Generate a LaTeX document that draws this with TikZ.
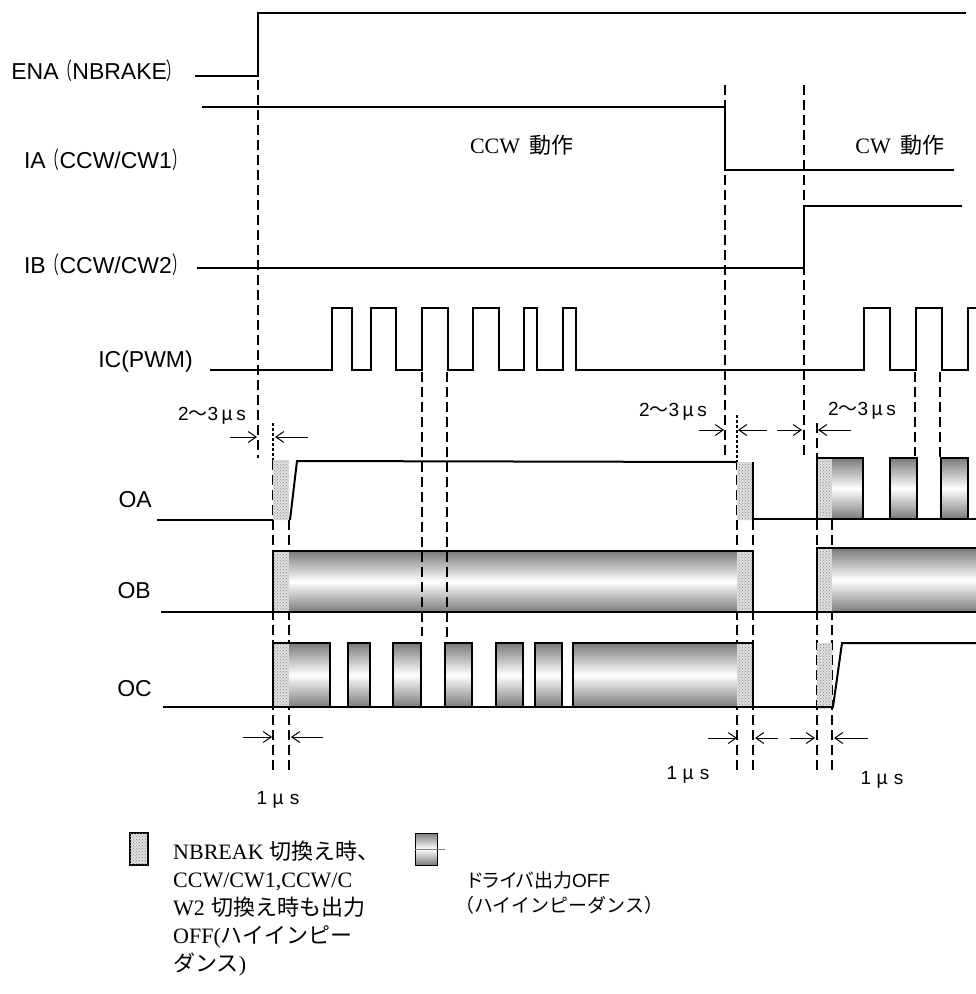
\documentclass[tikz,border=0pt]{standalone}
\usepackage{fontspec}
\usepackage{graphicx}
\setmainfont{Liberation Sans}
\newfontfamily\jp{Noto Sans CJK JP}
\newfontfamily\jpp[RawFeature=+palt]{Noto Sans CJK JP}
\newfontfamily\latserif{Liberation Serif}
\newcommand\lpar{\scalebox{0.6}[1]{\jp （}}
\newcommand\rpar{\scalebox{0.6}[1]{\jp ）}}
\usetikzlibrary{arrows.meta,patterns}
\pgfdeclareverticalshading{tubegrad}{100bp}{color(0bp)=(black); color(14bp)=(black!75); color(50bp)=(white); color(86bp)=(black!75); color(100bp)=(black)}

\begin{document}
\begin{tikzpicture}[x=1pt, y=-1pt,
    sig/.style={line width=2pt},
    thinsig/.style={line width=1.3pt},
    guide/.style={line width=1.2pt, dash pattern=on 10pt off 5pt},
    dotline/.style={line width=2pt, dash pattern=on 3pt off 2pt},
    meas/.style={line width=1pt, -{Straight Barb[length=8pt,width=11pt]}},
    tube/.style={shade, shading=tubegrad, draw=black, line width=1.5pt},
    stip/.style={fill=gray!25, postaction={pattern=crosshatch dots, pattern color=gray!90}},
    boxline/.style={draw=black, line width=1.5pt},
    lbl/.style={font=\fontsize{23}{27}\selectfont, inner sep=0pt},
    small/.style={font=\fontsize{19}{23}\selectfont, inner sep=0pt},
  ]
  \useasboundingbox (0,0) rectangle (976,994);

  % input signals
  \draw[sig] (195,76) -- (258,76) -- (258,13) -- (966,13);
  \draw[sig] (202,107) -- (725,107) -- (725,170) -- (954,170);
  \draw[thinsig] (197,268) -- (804,268) -- (804,206) -- (962,206);
  \draw[sig] (210,370) foreach \a/\b in {332/352, 371/396, 422/448, 473/499, 524/537, 563/576, 864/890, 916/942} { -- (\a,370) -- (\a,308) -- (\b,308) -- (\b,370) } -- (968,370) -- (968,308) -- (980,308);

  \node[lbl, anchor=east] (ena) at (181,71) {ENA\lpar NBRAKE\rpar};
  \node[lbl, anchor=east] (ia) at (186,160) {IA\lpar CCW/CW1\rpar};
  \node[lbl, anchor=east] (ib) at (186,265) {IB\lpar CCW/CW2\rpar};
  \node[lbl, anchor=east] (ic) at (193,362) {IC(PWM)};
  \node[font=\fontsize{22}{26}\selectfont, inner sep=0pt] (ccw) at (522,145) {{\latserif CCW}\, {\jp 動作}};
  \node[font=\fontsize{22}{26}\selectfont, inner sep=0pt] (cw) at (900,145) {{\latserif CW}\, {\jp 動作}};

  % timing guides
  \draw[guide] (258,80) -- (258,458);
  \draw[guide] (725,85) -- (725,458);
  \draw[guide] (804,85) -- (804,458);
  \draw[guide] (915,372) -- (915,456);
  \draw[guide] (940,372) -- (940,462);
  \draw[dotline] (273,423) -- (273,460);
  \draw[dotline] (737,415) -- (737,460);
  \draw[guide] (817,423) -- (817,460);
  \foreach \gx/\gy in {273/460, 289/520, 737/460, 753/520, 817/460, 832/520}
    \draw[guide] (\gx,\gy) -- (\gx,772);

  % OA
  \draw[sig] (157,520) -- (273,520);
  \path[stip] (273,460) rectangle (289,520);
  \draw[sig] (290,520) -- (297,461) -- (737,462);
  \draw[sig] (753,519) -- (980,519);
  \path[stip] (737,462) rectangle (753,520);
  \draw[sig] (753,462) -- (753,520);
  \foreach \a/\b in {817/863, 890/917, 941/968}
    \path[tube] (\a,458) rectangle (\b,519);
  \path[stip] (817,458) rectangle (832,519);
  \draw[boxline] (817,458) rectangle (863,519);

  % OB
  \draw[sig] (161,612) -- (980,612);
  \path[tube] (273,551) rectangle (753,612);
  \path[stip] (273,551) rectangle (289,612);
  \path[stip] (737,551) rectangle (753,612);
  \draw[boxline] (273,551) rectangle (753,612);
  \path[tube] (817,548) rectangle (985,612);
  \path[stip] (817,548) rectangle (832,612);
  \draw[boxline] (817,548) rectangle (985,612);

  % OC
  \draw[sig] (163,707) -- (817,707);
  \foreach \a/\b in {273/330, 348/370, 393/421, 445/472, 496/523, 535/562, 573/753}
    \path[tube] (\a,643) rectangle (\b,707);
  \path[stip] (273,643) rectangle (289,707);
  \path[stip] (737,643) rectangle (753,707);
  \draw[boxline] (273,643) rectangle (330,707);
  \draw[boxline] (573,643) rectangle (753,707);
  \path[stip] (817,643) rectangle (832,707);
  \draw[sig] (817,707) -- (833,707) -- (842,643) -- (985,643);

  \draw[guide] (422,372) -- (422,636);
  \draw[guide] (447,372) -- (447,640);

  \node[lbl, anchor=east] (oa) at (152,500) {OA};
  \node[lbl, anchor=east] (ob) at (151,591) {OB};
  \node[lbl, anchor=east] (oc) at (152,689) {OC};

  % measurement arrows
  \draw[meas] (230,437) -- (257,437);
  \draw[meas] (308,437) -- (275,437);
  \draw[meas] (699,430) -- (724,430);
  \draw[meas] (767,430) -- (738,430);
  \draw[meas] (777,430) -- (802,430);
  \draw[meas] (851,430) -- (818,430);
  \draw[meas] (243,737) -- (272,737);
  \draw[meas] (323,737) -- (291,737);
  \draw[meas] (708,738) -- (737,738);
  \draw[meas] (778,738) -- (755,738);
  \draw[meas] (790,738) -- (815,738);
  \draw[meas] (868,738) -- (834,738);

  \node[small] (gap1) at (212,416) {2{\jp 〜}3\,{\jp μ}\,s};
  \node[small] (gap2) at (673,412) {2{\jp 〜}3\,{\jp μ}\,s};
  \node[small] (gap3) at (862,411) {2{\jp 〜}3\,{\jp μ}\,s};
  \node[small] (dt1) at (278,800) {1 {\jp μ} s};
  \node[small] (dt2) at (688,775) {1 {\jp μ} s};
  \node[small] (dt3) at (882,780) {1 {\jp μ} s};

  % legend
  \path[stip, draw=black, line width=1.5pt] (130,833) rectangle (148,865);
  \node[anchor=north west, align=left, inner sep=0pt, font=\fontsize{22}{28}\selectfont] (note1) at (173,841)
    {{\latserif NBREAK} {\jp 切換え時、}\\
     {\latserif CCW/CW1,CCW/C}\\
     {\latserif W2} {\jp 切換え時も出力}\\
     {\latserif OFF(}{\jp ハイインピー}\\
     {\jp ダンス}{\latserif )}};
  \path[tube, line width=1pt] (415,833) rectangle (437,865);
  \draw[line width=0.6pt, gray] (415,849) -- (445,849);
  \node[small, anchor=west] (note2) at (468,880) {{\jpp ドライバ出力}OFF};
  \node[small, anchor=west] (note3) at (455,905) {{\jp （ハイインピーダンス）}};
\end{tikzpicture}
\end{document}
